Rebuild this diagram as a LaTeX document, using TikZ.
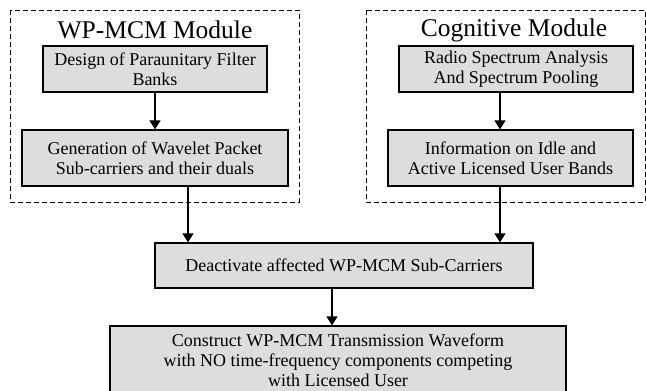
\documentclass[tikz,border=0pt]{standalone}
\usepackage{fontspec}
\setmainfont{Liberation Serif}
\usetikzlibrary{arrows.meta}
\definecolor{boxgray}{RGB}{221,221,221}

\begin{document}
\begin{tikzpicture}[x=1pt, y=-1pt,
    block/.style={draw, fill=boxgray, line width=1.3pt, align=center, inner sep=2pt,
        font=\fontsize{18}{20}\selectfont},
    title/.style={font=\fontsize{25.5}{27}\selectfont},
    module/.style={dash pattern=on 5pt off 3pt, line width=0.9pt},
    arrow/.style={-{Triangle[width=11pt,length=9pt]}, line width=1.4pt}]
    \useasboundingbox (0,0) rectangle (646,391);
    % WP-MCM Module
    \draw[module] (10,10) rectangle (299,202);
    \node[title] (wpTitle) at (155,30) {WP-MCM Module};
    \node[block, minimum width=224pt, minimum height=46pt] (Design) at (155,69)
        {Design of Paraunitary Filter\\Banks};
    \node[block, minimum width=266pt, minimum height=56pt] (Generation) at (155,158)
        {Generation of Wavelet Packet\\Sub-carriers and their duals};
    % Cognitive Module
    \draw[module] (366,10) rectangle (645,202);
    \node[title] (cogTitle) at (514,30) {Cognitive Module};
    \node[block, minimum width=234pt, minimum height=46pt] (Radio) at (516,69)
        {Radio Spectrum Analysis\\And Spectrum Pooling};
    \node[block, minimum width=245pt, minimum height=56pt] (Info) at (510.5,158)
        {Information on Idle and\\Active Licensed User Bands};
    % Combined stages
    \node[block, minimum width=378pt, minimum height=45pt] (Deactivate) at (344,265.5)
        {Deactivate affected WP-MCM Sub-Carriers};
    \node[block, minimum width=456pt, minimum height=68pt] (Construct) at (338,360)
        {Construct WP-MCM Transmission Waveform\\with NO time-frequency components competing\\with Licensed User};
    % Arrows
    \coordinate (colL) at (188,0);
    \coordinate (colR) at (500,0);
    \coordinate (colM) at (332,0);
    \draw[arrow] (Design) -- (Generation);
    \draw[arrow] (Radio.south -| colR) -- (Info.north -| colR);
    \foreach \from/\col in {Generation/colL, Info/colR} {
        \draw[arrow] (\from.south -| \col) -- (Deactivate.north -| \col);
    }
    \draw[arrow] (Deactivate.south -| colM) -- (Construct.north -| colM);
\end{tikzpicture}
\end{document}
